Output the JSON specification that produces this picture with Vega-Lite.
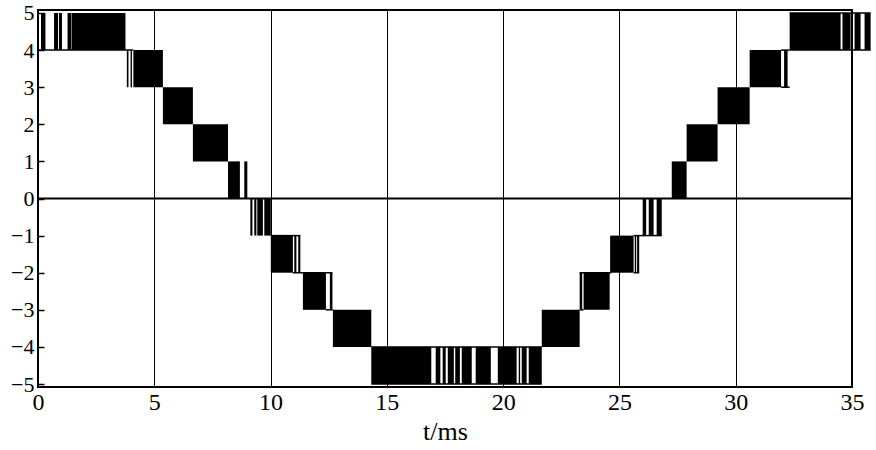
{
  "$schema": "https://vega.github.io/schema/vega-lite/v6.json",
  "width": 814,
  "height": 377,
  "autosize": {"type": "none"},
  "padding": {"left": 38, "top": 10, "right": 24, "bottom": 63},
  "background": "#ffffff",
  "datasets": {
    "fills": [
      {"t0": 0.13, "t1": 0.32, "lo": 4, "hi": 5},
      {"t0": 0.69, "t1": 0.86, "lo": 4, "hi": 5},
      {"t0": 0.90, "t1": 1.03, "lo": 4, "hi": 5},
      {"t0": 1.27, "t1": 1.44, "lo": 4, "hi": 5},
      {"t0": 1.46, "t1": 3.76, "lo": 4, "hi": 5},
      {"t0": 3.82, "t1": 3.89, "lo": 3, "hi": 4},
      {"t0": 3.98, "t1": 4.04, "lo": 3, "hi": 4},
      {"t0": 4.10, "t1": 5.37, "lo": 3, "hi": 4},
      {"t0": 5.37, "t1": 6.66, "lo": 2, "hi": 3},
      {"t0": 6.66, "t1": 8.17, "lo": 1, "hi": 2},
      {"t0": 8.17, "t1": 8.68, "lo": 0, "hi": 1},
      {"t0": 8.87, "t1": 9.00, "lo": 0, "hi": 1},
      {"t0": 9.13, "t1": 9.22, "lo": -1, "hi": 0},
      {"t0": 9.30, "t1": 9.39, "lo": -1, "hi": 0},
      {"t0": 9.43, "t1": 9.67, "lo": -1, "hi": 0},
      {"t0": 9.73, "t1": 10.01, "lo": -1, "hi": 0},
      {"t0": 10.01, "t1": 10.96, "lo": -2, "hi": -1},
      {"t0": 11.02, "t1": 11.11, "lo": -2, "hi": -1},
      {"t0": 11.19, "t1": 11.28, "lo": -2, "hi": -1},
      {"t0": 11.39, "t1": 12.38, "lo": -3, "hi": -2},
      {"t0": 12.55, "t1": 12.66, "lo": -3, "hi": -2},
      {"t0": 12.68, "t1": 14.33, "lo": -4, "hi": -3},
      {"t0": 14.33, "t1": 16.91, "lo": -5, "hi": -4},
      {"t0": 17.10, "t1": 17.30, "lo": -5, "hi": -4},
      {"t0": 17.40, "t1": 17.53, "lo": -5, "hi": -4},
      {"t0": 17.62, "t1": 17.88, "lo": -5, "hi": -4},
      {"t0": 17.94, "t1": 18.14, "lo": -5, "hi": -4},
      {"t0": 18.22, "t1": 18.65, "lo": -5, "hi": -4},
      {"t0": 18.82, "t1": 19.47, "lo": -5, "hi": -4},
      {"t0": 19.77, "t1": 20.58, "lo": -5, "hi": -4},
      {"t0": 20.67, "t1": 20.73, "lo": -5, "hi": -4},
      {"t0": 20.80, "t1": 21.01, "lo": -5, "hi": -4},
      {"t0": 21.10, "t1": 21.66, "lo": -5, "hi": -4},
      {"t0": 21.66, "t1": 23.29, "lo": -4, "hi": -3},
      {"t0": 23.29, "t1": 23.40, "lo": -3, "hi": -2},
      {"t0": 23.46, "t1": 24.58, "lo": -3, "hi": -2},
      {"t0": 24.60, "t1": 25.61, "lo": -2, "hi": -1},
      {"t0": 25.66, "t1": 25.72, "lo": -2, "hi": -1},
      {"t0": 25.76, "t1": 25.85, "lo": -2, "hi": -1},
      {"t0": 26.00, "t1": 26.15, "lo": -1, "hi": 0},
      {"t0": 26.26, "t1": 26.47, "lo": -1, "hi": 0},
      {"t0": 26.60, "t1": 26.82, "lo": -1, "hi": 0},
      {"t0": 27.25, "t1": 27.89, "lo": 0, "hi": 1},
      {"t0": 27.89, "t1": 29.22, "lo": 1, "hi": 2},
      {"t0": 29.22, "t1": 30.60, "lo": 2, "hi": 3},
      {"t0": 30.60, "t1": 31.95, "lo": 3, "hi": 4},
      {"t0": 32.08, "t1": 32.23, "lo": 3, "hi": 4},
      {"t0": 32.32, "t1": 34.51, "lo": 4, "hi": 5},
      {"t0": 34.59, "t1": 34.94, "lo": 4, "hi": 5},
      {"t0": 35.11, "t1": 35.37, "lo": 4, "hi": 5},
      {"t0": 35.54, "t1": 35.80, "lo": 4, "hi": 5}
    ],
    "edges": [
      {"t0": 0, "t1": 4.10, "lo": 4},
      {"t0": 10.01, "t1": 11.28, "lo": -1},
      {"t0": 10.96, "t1": 12.66, "lo": -2},
      {"t0": 12.38, "t1": 12.68, "lo": -3},
      {"t0": 14.33, "t1": 21.66, "lo": -4},
      {"t0": 14.33, "t1": 21.66, "lo": -5},
      {"t0": 23.29, "t1": 23.46, "lo": -3},
      {"t0": 23.29, "t1": 24.65, "lo": -2},
      {"t0": 25.61, "t1": 26.82, "lo": -1},
      {"t0": 25.61, "t1": 25.85, "lo": -2},
      {"t0": 31.95, "t1": 32.32, "lo": 3},
      {"t0": 31.95, "t1": 32.32, "lo": 4},
      {"t0": 32.32, "t1": 35.80, "lo": 4},
      {"t0": 32.32, "t1": 35.80, "lo": 5}
    ],
    "zero": [{"lo": 0}]
  },
  "layer": [
    {
      "data": {"name": "zero"},
      "mark": {"type": "rule", "color": "#000", "strokeWidth": 2},
      "encoding": {
        "y": {
          "field": "lo", "type": "quantitative", "title": null,
          "scale": {"domain": [-5.08, 5.08], "nice": false, "zero": false},
          "axis": {"values": [-5, -4, -3, -2, -1, 0, 1, 2, 3, 4, 5], "format": "d", "grid": false, "ticks": true, "tickSize": -6, "tickColor": "#000", "tickWidth": 1.5, "labelPadding": 10, "labelFontSize": 22}
        }
      }
    },
    {
      "data": {"name": "fills"},
      "mark": {"type": "rect", "color": "#000", "stroke": null},
      "encoding": {
        "x": {
          "field": "t0", "type": "quantitative", "title": "t/ms",
          "scale": {"domain": [0, 35], "nice": false, "zero": false},
          "axis": {"values": [0, 5, 10, 15, 20, 25, 30, 35], "format": "d", "grid": true, "gridColor": "#000", "gridOpacity": 1, "gridWidth": 1, "ticks": false, "labelPadding": 3, "labelFlush": false, "titlePadding": 4}
        },
        "x2": {"field": "t1"},
        "y": {
          "field": "lo", "type": "quantitative", "title": null,
          "scale": {"domain": [-5.08, 5.08], "nice": false, "zero": false},
          "axis": {"values": [-5, -4, -3, -2, -1, 0, 1, 2, 3, 4, 5], "format": "d", "grid": false, "ticks": true, "tickSize": -6, "tickColor": "#000", "tickWidth": 1.5, "labelPadding": 10, "labelFontSize": 22}
        },
        "y2": {"field": "hi"}
      }
    },
    {
      "data": {"name": "edges"},
      "mark": {"type": "rule", "color": "#000", "strokeWidth": 1.5},
      "encoding": {
        "x": {
          "field": "t0", "type": "quantitative", "title": "t/ms",
          "scale": {"domain": [0, 35], "nice": false, "zero": false},
          "axis": {"values": [0, 5, 10, 15, 20, 25, 30, 35], "format": "d", "grid": true, "gridColor": "#000", "gridOpacity": 1, "gridWidth": 1, "ticks": false, "labelPadding": 3, "labelFlush": false, "titlePadding": 4}
        },
        "x2": {"field": "t1"},
        "y": {
          "field": "lo", "type": "quantitative", "title": null,
          "scale": {"domain": [-5.08, 5.08], "nice": false, "zero": false},
          "axis": {"values": [-5, -4, -3, -2, -1, 0, 1, 2, 3, 4, 5], "format": "d", "grid": false, "ticks": true, "tickSize": -6, "tickColor": "#000", "tickWidth": 1.5, "labelPadding": 10, "labelFontSize": 22}
        }
      }
    }
  ],
  "resolve": {"scale": {"x": "shared", "y": "shared"}},
  "config": {
    "view": {"stroke": "#000", "strokeWidth": 2},
    "axis": {
      "labelFont": "Liberation Serif",
      "labelFontSize": 24,
      "labelColor": "#000",
      "titleFont": "Liberation Serif",
      "titleFontSize": 26,
      "titleFontWeight": "normal",
      "titleColor": "#000",
      "domain": false
    }
  }
}
